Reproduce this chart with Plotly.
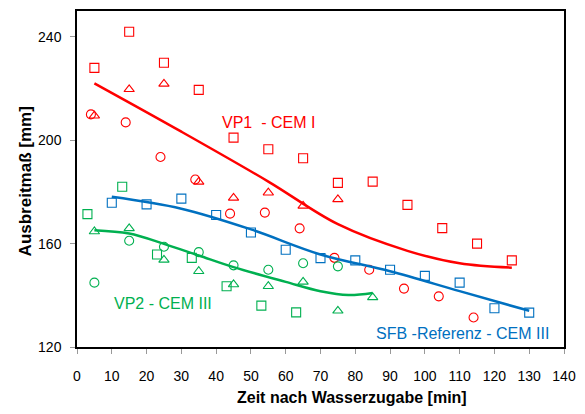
import plotly.graph_objects as go

# ---- data ----
red_sq_x = [5, 15, 25, 35, 45, 55, 65, 75, 85, 95, 105, 115, 125]
red_sq_y = [228, 242, 230, 219.5, 201, 196.5, 193, 183.5, 184, 175, 166, 160, 153.5]
red_tri_x = [5, 15, 25, 35, 45, 55, 65, 75]
red_tri_y = [209.5, 219.7, 221.8, 183.9, 177.7, 179.7, 174.6, 177.1]
red_cir_x = [4, 14, 24, 34, 44, 54, 64, 74, 84, 94, 104, 114]
red_cir_y = [210, 206.9, 193.5, 184.8, 171.6, 172, 165.9, 154.5, 149.9, 142.6, 139.6, 131.4]

blue_sq_x = [10, 20, 30, 40, 50, 60, 70, 80, 90, 100, 110, 120, 130]
blue_sq_y = [175.8, 175.2, 177.4, 171.1, 164.3, 157.6, 154.4, 153.5, 149.9, 147.5, 144.9, 135, 133.3]

green_sq_x = [3, 13, 23, 33, 43, 53, 63]
green_sq_y = [171.4, 182, 155.8, 154.5, 143.5, 136, 133.4]
green_tri_x = [5, 15, 25, 35, 45, 55, 65, 75, 85]
green_tri_y = [164.7, 165.9, 153.7, 149.3, 144.2, 143.5, 145.2, 134, 139.2]
green_cir_x = [5, 15, 25, 35, 45, 55, 65, 75]
green_cir_y = [144.9, 161.1, 158.8, 156.7, 151.6, 149.9, 152.4, 151.2]

# trend lines
red_fit_x = [5, 30, 55, 75, 95, 110, 125]
red_fit_y = [222.0, 203.3, 184.0, 167.5, 157.2, 152.4, 150.7]
blue_fit_x = [10, 30, 50, 70, 90, 110, 130]
blue_fit_y = [178.1, 173.5, 165.5, 155.8, 149.3, 141.6, 134.0]
green_fit_x = [5, 15, 25, 35, 45, 60, 70, 78, 85]
green_fit_y = [165.2, 163.9, 159.9, 155.4, 150.9, 145.2, 141.6, 140.1, 140.9]

x_ticks = [0, 10, 20, 30, 40, 50, 60, 70, 80, 90, 100, 110, 120, 130, 140]
y_ticks = [120, 160, 200, 240]

RED = "#FF0000"
BLUE = "#0070C0"
GREEN = "#00B050"
FONT = "Liberation Sans, Arial, sans-serif"

fig = go.Figure()

def markers(x, y, color, symbol, size=8):
    fig.add_trace(go.Scatter(
        x=x, y=y, mode="markers",
        marker=dict(symbol=symbol, size=size, color=color,
                    line=dict(color=color, width=1.1)),
        showlegend=False, hoverinfo="skip"))

def fit(x, y, color):
    fig.add_trace(go.Scatter(
        x=x, y=y, mode="lines", line=dict(color=color, width=2.5, shape="spline", smoothing=1.0),
        showlegend=False, hoverinfo="skip"))

markers(red_sq_x, red_sq_y, RED, "square-open", 9)
markers(red_tri_x, red_tri_y, RED, "triangle-up-open", 9)
markers(red_cir_x, red_cir_y, RED, "circle-open", 9)
markers(blue_sq_x, blue_sq_y, BLUE, "square-open", 9)
markers(green_sq_x, green_sq_y, GREEN, "square-open", 9)
markers(green_tri_x, green_tri_y, GREEN, "triangle-up-open", 9)
markers(green_cir_x, green_cir_y, GREEN, "circle-open", 9)

fit(red_fit_x, red_fit_y, RED)
fit(blue_fit_x, blue_fit_y, BLUE)
fit(green_fit_x, green_fit_y, GREEN)

annotations = [
    dict(x=55, y=206.8, text="VP1\u00a0\u00a0- CEM I", font=dict(color=RED, size=16, family=FONT),
         showarrow=False, xref="x", yref="y"),
    dict(x=24.7, y=137.0, text="VP2 - CEM III", font=dict(color=GREEN, size=16, family=FONT),
         showarrow=False, xref="x", yref="y"),
    dict(x=136.2, y=125.4, text="SFB -Referenz - CEM III", font=dict(color=BLUE, size=16, family=FONT),
         showarrow=False, xref="x", yref="y", xanchor="right"),
    dict(x=0.565, y=-0.15, xref="paper", yref="paper", text="<b>Zeit nach Wasserzugabe [min]</b>",
         font=dict(size=16, color="black", family=FONT), showarrow=False, yanchor="middle"),
    dict(x=-0.106, y=0.494, xref="paper", yref="paper", text="<b>Ausbreitmaß [mm]</b>",
         font=dict(size=17, color="black", family=FONT), showarrow=False, textangle=-90,
         xanchor="center", yanchor="middle"),
]

fig.update_layout(
    width=585, height=414,
    margin=dict(l=77, r=19, t=9, b=67),
    paper_bgcolor="white", plot_bgcolor="white",
    font=dict(family=FONT, size=14, color="black"),
    annotations=annotations,
    xaxis=dict(range=[0, 140], tickvals=x_ticks, ticks="outside", ticklen=5, tickcolor="#999999",
               showgrid=False, zeroline=False, showline=True, linecolor="black", linewidth=1.5,
               mirror=True, ticklabelstandoff=10, tickfont=dict(size=14)),
    yaxis=dict(range=[120, 250], tickvals=y_ticks, ticks="outside", ticklen=5, tickcolor="#999999",
               showgrid=False, zeroline=False, showline=True, linecolor="black", linewidth=1.5,
               mirror=True, ticklabelstandoff=6, tickfont=dict(size=14)),
)

fig.write_html("out.html", config={"displayModeBar": False},
               post_script="document.body.style.margin='0';document.body.style.padding='0';")
